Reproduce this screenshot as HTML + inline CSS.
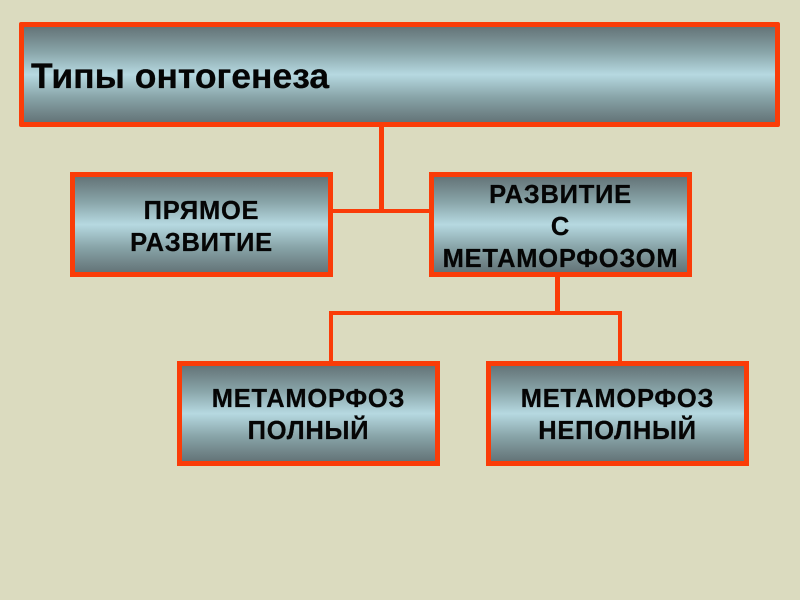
<!DOCTYPE html>
<html><head><meta charset="utf-8"><style>
html,body{margin:0;padding:0;width:800px;height:600px;overflow:hidden;background:#dbdbbf}
.b{position:absolute;box-sizing:border-box;border:5px solid #fa3c08;background:linear-gradient(180deg,#647478 0%,#88a4a8 26%,#b6d9e1 50%,#88a4a8 74%,#647478 100%);color:#050505;font:bold 25.5px/32px "Liberation Sans",sans-serif;text-align:center;letter-spacing:.75px;display:flex;align-items:center;justify-content:center;-webkit-text-stroke:.25px #050505}
.b span{position:relative;top:1px}
.b.u span{top:2px}
.l{position:absolute;background:#fa3c08}
</style></head><body>
<div class="l" style="left:379px;top:125px;width:5px;height:88px"></div>
<div class="l" style="left:331px;top:209px;width:100px;height:4px"></div>
<div class="l" style="left:555px;top:275px;width:5px;height:38px"></div>
<div class="l" style="left:329px;top:311px;width:293px;height:4px"></div>
<div class="l" style="left:329px;top:311px;width:4px;height:52px"></div>
<div class="l" style="left:618px;top:311px;width:4px;height:52px"></div>
<div class="b" style="left:19px;top:22px;width:761px;height:105px;justify-content:flex-start;font-size:35.5px;letter-spacing:0;padding-left:7px;border-radius:2px"><span>Типы онтогенеза</span></div>
<div class="b u" style="left:70px;top:172px;width:263px;height:105px"><span>ПРЯМОЕ<br>РАЗВИТИЕ</span></div>
<div class="b u" style="left:429px;top:172px;width:263px;height:105px"><span>РАЗВИТИЕ<br>С<br>МЕТАМОРФОЗОМ</span></div>
<div class="b" style="left:177px;top:361px;width:263px;height:105px"><span>МЕТАМОРФОЗ<br>ПОЛНЫЙ</span></div>
<div class="b" style="left:486px;top:361px;width:263px;height:105px"><span>МЕТАМОРФОЗ<br>НЕПОЛНЫЙ</span></div>
</body></html>
